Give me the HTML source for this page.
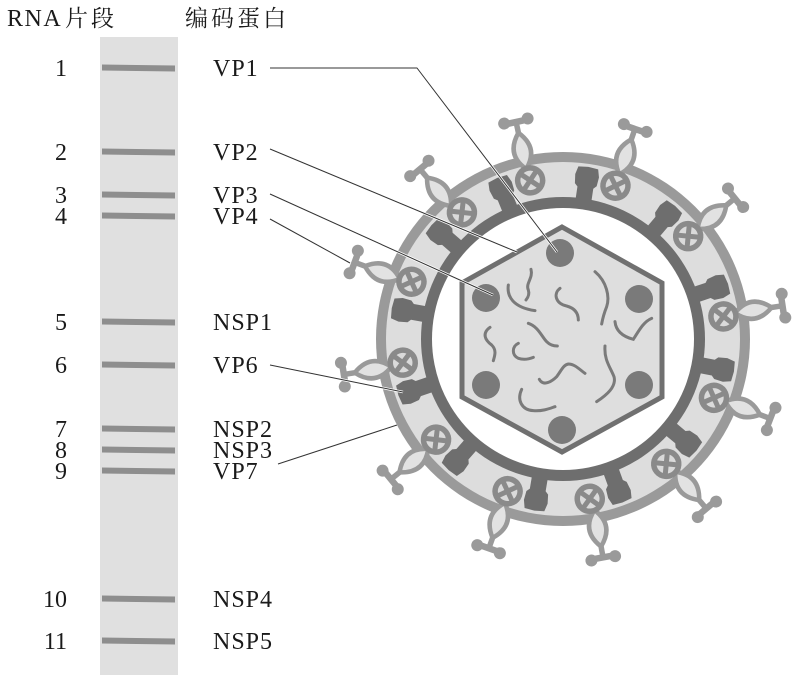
<!DOCTYPE html>
<html><head><meta charset="utf-8"><style>
html,body{margin:0;padding:0;background:#fff;}
svg{display:block;}
.t{font-family:"Liberation Serif","Noto Serif CJK SC",serif;font-size:24px;fill:#1a1a1a;letter-spacing:1px;}
.c{font-family:"Liberation Serif","Noto Serif CJK SC","Noto Sans CJK SC",serif;font-size:23px;fill:#1a1a1a;letter-spacing:3px;}
.n{font-family:"Liberation Serif",serif;font-size:24px;fill:#1a1a1a;}
</style></head><body>
<svg width="800" height="680" viewBox="0 0 800 680" xmlns="http://www.w3.org/2000/svg">
<defs>
  <g id="tooth">
    <g transform="rotate(-10.5)">
      <path d="M141,-8 L153,-8 L156,-11 L165,-12 L173,-10 L174,0 L173,10 L165,12 L156,11 L153,8 L141,8 Z" fill="#6e6e6e"/>
    </g>
  </g>
  <g id="spike">
    <path d="M174,0 Q192,-17 211,0 Q192,17 174,0 Z" fill="#e2e2e2" stroke="#9a9a9a" stroke-width="4.5" stroke-linejoin="round"/>
    <line x1="209" y1="0" x2="221" y2="0" stroke="#9a9a9a" stroke-width="5.5"/>
    <line x1="222" y1="-12" x2="222" y2="12" stroke="#9a9a9a" stroke-width="6.5" stroke-linecap="round"/>
    <circle cx="223" cy="-12" r="6" fill="#9a9a9a"/>
    <circle cx="223" cy="12" r="6" fill="#9a9a9a"/>
  </g>
  <g id="wheel">
    <circle cx="162" cy="0" r="12.5" fill="#dadada" stroke="#8a8a8a" stroke-width="5.5"/>
    <line x1="153" y1="-9" x2="171" y2="9" stroke="#8a8a8a" stroke-width="5"/>
    <line x1="153" y1="9" x2="171" y2="-9" stroke="#8a8a8a" stroke-width="5"/>
  </g>
</defs>

<!-- header -->
<text class="t" x="7" y="26" style="letter-spacing:1.5px">RNA</text>
<text class="c" x="65" y="26">片段</text>
<text class="c" x="185" y="26">编码蛋白</text>

<!-- gel strip -->
<rect x="100" y="37" width="78" height="638" fill="#e0e0e0"/>
<g fill="#8e8e8e">
  <polygon points="102,64.5 175,65.5 175,71.5 102,70.5"/>
  <polygon points="102,148.5 175,149.5 175,155.5 102,154.5"/>
  <polygon points="102,191.5 175,192.5 175,198.5 102,197.5"/>
  <polygon points="102,212.5 175,213.5 175,219.5 102,218.5"/>
  <polygon points="102,318.5 175,319.5 175,325.5 102,324.5"/>
  <polygon points="102,361.5 175,362.5 175,368.5 102,367.5"/>
  <polygon points="102,425.5 175,426.5 175,432.5 102,431.5"/>
  <polygon points="102,446.5 175,447.5 175,453.5 102,452.5"/>
  <polygon points="102,467.5 175,468.5 175,474.5 102,473.5"/>
  <polygon points="102,595.5 175,596.5 175,602.5 102,601.5"/>
  <polygon points="102,637.5 175,638.5 175,644.5 102,643.5"/>
</g>

<!-- numbers -->
<g class="n" text-anchor="end">
  <text x="67" y="76">1</text>
  <text x="67" y="160">2</text>
  <text x="67" y="203">3</text>
  <text x="67" y="224">4</text>
  <text x="67" y="330">5</text>
  <text x="67" y="373">6</text>
  <text x="67" y="437">7</text>
  <text x="67" y="458">8</text>
  <text x="67" y="479">9</text>
  <text x="67" y="607">10</text>
  <text x="67" y="649">11</text>
</g>

<!-- labels -->
<g class="t">
  <text x="213" y="76">VP1</text>
  <text x="213" y="160">VP2</text>
  <text x="213" y="203">VP3</text>
  <text x="213" y="224">VP4</text>
  <text x="213" y="330">NSP1</text>
  <text x="213" y="373">VP6</text>
  <text x="213" y="437">NSP2</text>
  <text x="213" y="458">NSP3</text>
  <text x="213" y="479">VP7</text>
  <text x="213" y="607">NSP4</text>
  <text x="213" y="649">NSP5</text>
</g>

<!-- virus -->
<circle cx="563" cy="339" r="187" fill="#9a9a9a"/>
<circle cx="563" cy="339" r="177" fill="#dddddd"/>
<circle cx="563" cy="339" r="142" fill="#6e6e6e"/>
<circle cx="563" cy="339" r="131" fill="#ffffff"/>

<g transform="translate(563,339)">
  <use href="#tooth" transform="rotate(-101.7)"/>
  <use href="#tooth" transform="rotate(-71.1)"/>
  <use href="#tooth" transform="rotate(-39.4)"/>
  <use href="#tooth" transform="rotate(-8)"/>
  <use href="#tooth" transform="rotate(21.3)"/>
  <use href="#tooth" transform="rotate(50.4)"/>
  <use href="#tooth" transform="rotate(80.5)"/>
  <use href="#tooth" transform="rotate(110)"/>
  <use href="#tooth" transform="rotate(141.6)"/>
  <use href="#tooth" transform="rotate(171.6)"/>
  <use href="#tooth" transform="rotate(200.7)"/>
  <use href="#tooth" transform="rotate(231.4)"/>

  <use href="#spike" transform="rotate(-102.2)"/>
  <use href="#spike" transform="rotate(-71.1)"/>
  <use href="#spike" transform="rotate(-39.3)"/>
  <use href="#spike" transform="rotate(-8.6)"/>
  <use href="#spike" transform="rotate(21)"/>
  <use href="#spike" transform="rotate(49.8)"/>
  <use href="#spike" transform="rotate(79.6)"/>
  <use href="#spike" transform="rotate(109.5)"/>
  <use href="#spike" transform="rotate(140.8)"/>
  <use href="#spike" transform="rotate(170.8)"/>
  <use href="#spike" transform="rotate(200.2)"/>
  <use href="#spike" transform="rotate(229.9)"/>

  <use href="#wheel" transform="rotate(-101.7)"/>
  <use href="#wheel" transform="rotate(-71.1)"/>
  <use href="#wheel" transform="rotate(-39.4)"/>
  <use href="#wheel" transform="rotate(-8)"/>
  <use href="#wheel" transform="rotate(21.3)"/>
  <use href="#wheel" transform="rotate(50.4)"/>
  <use href="#wheel" transform="rotate(80.5)"/>
  <use href="#wheel" transform="rotate(110)"/>
  <use href="#wheel" transform="rotate(141.6)"/>
  <use href="#wheel" transform="rotate(171.6)"/>
  <use href="#wheel" transform="rotate(200.7)"/>
  <use href="#wheel" transform="rotate(231.4)"/>
</g>

<!-- core hexagon -->
<polygon points="562,227 662,283 662,397 562,452 462,397 462,283" fill="#dedede" stroke="#707070" stroke-width="5" stroke-linejoin="miter"/>

<!-- RNA squiggles -->
<g transform="translate(450,220) scale(0.33333)" stroke="#7a7a7a" stroke-width="9" fill="none" stroke-linecap="round">
  <path d="M243,148 C250,175 226,190 235,210 C240,225 232,235 228,240"/>
  <path d="M175,195 C170,230 190,262 255,272"/>
  <path d="M330,205 C310,220 315,250 350,258 C375,265 385,280 385,300"/>
  <path d="M435,155 C470,185 480,230 470,260 C462,280 458,295 455,312"/>
  <path d="M495,305 C498,335 520,350 550,358 C565,335 580,305 605,295"/>
  <path d="M235,310 C265,320 275,350 290,365 C300,375 310,378 322,378"/>
  <path d="M120,322 C95,340 105,360 125,375 C140,390 135,405 130,422"/>
  <path d="M205,370 C185,380 185,405 205,415 C220,420 235,418 250,412"/>
  <path d="M268,478 C280,500 305,485 320,470 C335,450 340,435 355,432 C375,432 390,450 405,460"/>
  <path d="M465,378 C462,420 480,440 492,470 C500,500 470,525 440,545"/>
  <path d="M215,508 C200,540 215,570 250,572 C280,574 300,565 315,560"/>
</g>

<!-- dots -->
<g fill="#7a7a7a">
  <circle cx="560" cy="253" r="14"/>
  <circle cx="486" cy="298" r="14"/>
  <circle cx="639" cy="299" r="14"/>
  <circle cx="486" cy="385" r="14"/>
  <circle cx="639" cy="385" r="14"/>
  <circle cx="562" cy="430" r="14"/>
</g>

<!-- connector lines -->
<g fill="none" stroke="#ffffff" stroke-width="2.6" stroke-linejoin="round">
  <polyline points="270,68 417,68 557,252"/>
  <line x1="270" y1="149" x2="517" y2="252"/>
  <line x1="270" y1="194" x2="493" y2="295"/>
  <line x1="270" y1="219" x2="350" y2="263"/>
  <line x1="270" y1="365" x2="403" y2="392"/>
  <line x1="278" y1="464" x2="397" y2="425"/>
</g>
<g fill="none" stroke="#333333" stroke-width="1" stroke-linejoin="round">
  <polyline points="270,68 417,68 557,252"/>
  <line x1="270" y1="149" x2="517" y2="252"/>
  <line x1="270" y1="194" x2="493" y2="295"/>
  <line x1="270" y1="219" x2="350" y2="263"/>
  <line x1="270" y1="365" x2="403" y2="392"/>
  <line x1="278" y1="464" x2="397" y2="425"/>
</g>
</svg>
</body></html>
